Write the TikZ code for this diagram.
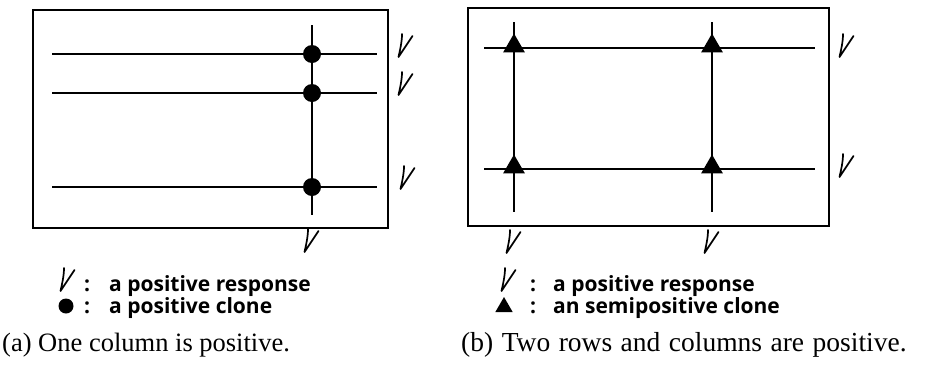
\documentclass[tikz,border=0pt]{standalone}
\usepackage{fontspec}
\setmainfont{Liberation Serif}
\newfontfamily\legendfont{Open Sans}
\usetikzlibrary{shapes.geometric}

\tikzset{
  vmark/.pic={\draw[line width=1.7pt, line cap=round, line join=round]
    (-3,-12) .. controls (-3,-4) and (-5,4) .. (-6.5,11) -- (7.5,-10);}
}

\begin{document}
\begin{tikzpicture}[x=1pt, y=-1pt,
    panel/.style={draw, line width=2.6pt},
    probe/.style={line width=1.1pt},
    clone/.style={circle, fill, inner sep=0pt, minimum size=18pt},
    semiclone/.style={regular polygon, regular polygon sides=3, fill, inner sep=0pt, minimum size=25pt},
    legend/.style={font=\legendfont\bfseries\fontsize{21}{24}\selectfont, anchor=base west, inner sep=0pt},
    caption/.style={font=\fontsize{26.5}{28}\selectfont, anchor=base west, inner sep=0pt}]
    \useasboundingbox[fill=white] (0,0) rectangle (933,373);

    % (a) one positive column
    \draw[panel] (33,10) rectangle (388,228);
    \coordinate (a1w) at (52,54);  \coordinate (a1e) at (377,54);
    \coordinate (a2w) at (52,93);  \coordinate (a2e) at (377,93);
    \coordinate (a3w) at (52,187); \coordinate (a3e) at (377,187);
    \coordinate (acn) at (312,25); \coordinate (acs) at (312,215);
    \draw[probe] (a1w) -- (a1e);
    \draw[probe] (a2w) -- (a2e);
    \draw[probe] (a3w) -- (a3e);
    \draw[probe] (acn) -- (acs);
    \node[clone] (dot1) at (312,54) {};
    \node[clone] (dot2) at (312,93) {};
    \node[clone] (dot3) at (312,187) {};
    \pic at (405,46) {vmark};
    \pic at (405,84) {vmark};
    \pic at (407,178) {vmark};
    \pic at (311,241) {vmark};

    % (b) two positive rows and columns
    \draw[panel] (468,8) rectangle (829,226);
    \coordinate (b1w) at (484,48);  \coordinate (b1e) at (815,48);
    \coordinate (b2w) at (484,169); \coordinate (b2e) at (815,169);
    \coordinate (b1n) at (514,22);  \coordinate (b1s) at (514,212);
    \coordinate (b2n) at (712,22);  \coordinate (b2s) at (712,212);
    \draw[probe] (b1w) -- (b1e);
    \draw[probe] (b2w) -- (b2e);
    \draw[probe] (b1n) -- (b1s);
    \draw[probe] (b2n) -- (b2s);
    \node[semiclone] (tri11) at (514,46) {};
    \node[semiclone] (tri12) at (712,46) {};
    \node[semiclone] (tri21) at (514,167) {};
    \node[semiclone] (tri22) at (712,167) {};
    \pic at (846,46) {vmark};
    \pic at (846,166) {vmark};
    \pic at (513,242) {vmark};
    \pic at (711,242) {vmark};

    % legends
    \pic at (67,280) {vmark};
    \node[legend] (colA1) at (84,291) {:};
    \node[legend] (txtA1) at (109,291) {a positive response};
    \node[clone, minimum size=15pt] (keyA2) at (66,306) {};
    \node[legend] (colA2) at (84,313) {:};
    \node[legend] (txtA2) at (109,313) {a positive clone};

    \pic at (508,280) {vmark};
    \node[legend] (colB1) at (530,291) {:};
    \node[legend] (txtB1) at (553,291) {a positive response};
    \node[semiclone, minimum size=20pt] (keyB2) at (504,307) {};
    \node[legend] (colB2) at (530,313) {:};
    \node[legend] (txtB2) at (553,313) {an semipositive clone};

    % captions
    \node[caption] (capA) at (2,351) {(a) One column is positive.};
    \node[caption, font=\fontsize{27.5}{29}\selectfont] (capB) at (461,351) {\spaceskip=8.5pt plus 1pt(b) Two rows and columns are positive.};
\end{tikzpicture}
\end{document}
